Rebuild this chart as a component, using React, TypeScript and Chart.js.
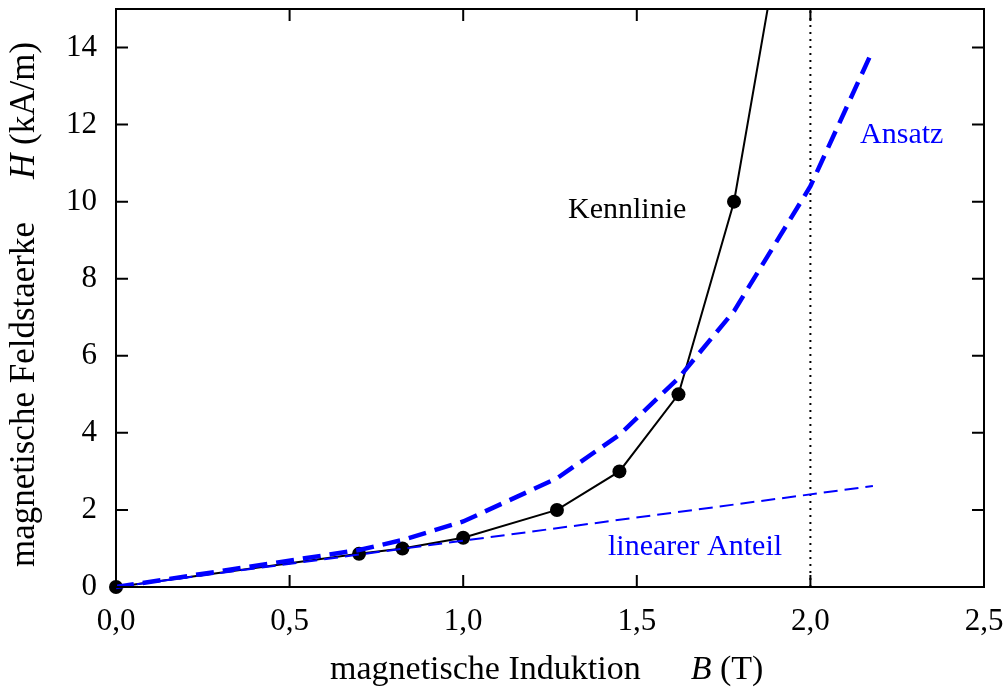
import React, { useEffect, useRef } from "react";
import { Chart, registerables } from "chart.js";

Chart.register(...registerables);

// ---- data ----
const kennB = [0, 0.7, 0.825, 1.0, 1.27, 1.45, 1.62, 1.78, 1.9];
const kennH = [0, 0.86, 1.0, 1.28, 2.0, 3.0, 5.0, 10.0, 16.2];
const ansatzB = [0, 0.7, 0.825, 1.0, 1.27, 1.45, 1.62, 1.78, 2.0, 2.18];
const ansatzH = [0, 0.96, 1.22, 1.7, 2.82, 3.95, 5.42, 7.16, 10.4, 13.94];
const linearB = [0, 2.18];
const linearH = [0, 2.62];
const markerB = [2.0, 2.0];
const markerH = [0, 15];
const xTicks = [0, 0.5, 1.0, 1.5, 2.0, 2.5];
const yTicks = [0, 2, 4, 6, 8, 10, 12, 14];
const labelTexts = ["Kennlinie", "Ansatz", "linearer Anteil"];
const labelB = [1.302, 2.143, 1.417];
const labelH = [9.58, 11.53, 0.83];
const labelColors = ["#000000", "#0000ff", "#0000ff"];
const xTitle = ["magnetische Induktion", "B", "(T)"];
const yTitle = ["magnetische Feldstaerke", "H", "(kA/m)"];

const FONT = "'Liberation Serif', 'Times New Roman', serif";
const BLUE = "#0000ff";

const zip = (xs: number[], ys: number[]) => xs.map((x, i) => ({ x, y: ys[i] }));

function drawTitle(ctx: CanvasRenderingContext2D, parts: string[], size: number, gap: number, x0: number, y0: number) {
  const reg = `${size}px ${FONT}`;
  const ita = `italic ${size}px ${FONT}`;
  ctx.font = reg;
  const w1 = ctx.measureText(parts[0]).width;
  const ws = ctx.measureText(" ").width;
  ctx.font = ita;
  const w2 = ctx.measureText(parts[1]).width;
  let x = x0;
  ctx.font = reg;
  ctx.fillText(parts[0], x, y0);
  x += w1 + gap;
  ctx.font = ita;
  ctx.fillText(parts[1], x, y0);
  x += w2 + ws;
  ctx.font = reg;
  ctx.fillText(parts[2], x, y0);
}

const framePlugin = {
  id: "frame",
  afterDatasetsDraw(chart: any) {
    const { ctx, chartArea: a, scales } = chart;
    const xs = scales.x;
    const ys = scales.y;
    ctx.save();
    ctx.strokeStyle = "#000";
    ctx.lineWidth = 2;
    ctx.setLineDash([]);
    ctx.strokeRect(a.left, a.top, a.right - a.left, a.bottom - a.top);
    const tl = 12;
    ctx.beginPath();
    xTicks.forEach((v) => {
      const p = xs.getPixelForValue(v);
      ctx.moveTo(p, a.bottom);
      ctx.lineTo(p, a.bottom - tl);
      ctx.moveTo(p, a.top);
      ctx.lineTo(p, a.top + tl);
    });
    yTicks.forEach((v) => {
      const p = ys.getPixelForValue(v);
      ctx.moveTo(a.left, p);
      ctx.lineTo(a.left + tl, p);
      ctx.moveTo(a.right, p);
      ctx.lineTo(a.right - tl, p);
    });
    ctx.stroke();

    // in-plot labels
    ctx.font = `30px ${FONT}`;
    ctx.textAlign = "left";
    ctx.textBaseline = "alphabetic";
    labelTexts.forEach((t, i) => {
      ctx.fillStyle = labelColors[i];
      ctx.fillText(t, xs.getPixelForValue(labelB[i]), ys.getPixelForValue(labelH[i]));
    });

    // axis titles
    ctx.fillStyle = "#000";
    drawTitle(ctx, xTitle, 34, 50, a.left + 214, 679);
    ctx.save();
    ctx.translate(34, a.bottom - 20);
    ctx.rotate(-Math.PI / 2);
    drawTitle(ctx, yTitle, 35, 43, 0, 0);
    ctx.restore();
    ctx.restore();
  },
};

export default function App() {
  const ref = useRef<HTMLCanvasElement | null>(null);
  useEffect(() => {
    if (!ref.current) return;
    const clipBox = { left: 10, bottom: 10, top: 0, right: 0 } as any;
    const chart = new Chart(ref.current, {
      type: "scatter",
      data: {
        datasets: [
          {
            label: "linearer Anteil",
            data: zip(linearB, linearH),
            showLine: true,
            borderColor: BLUE,
            borderWidth: 2,
            borderDash: [14, 7],
            pointRadius: 0,
            clip: clipBox,
          },
          {
            label: "Ansatz",
            data: zip(ansatzB, ansatzH),
            showLine: true,
            borderColor: BLUE,
            borderWidth: 4.5,
            borderDash: [18, 9],
            pointRadius: 0,
            clip: clipBox,
          },
          {
            label: "Kennlinie",
            data: zip(kennB, kennH),
            showLine: true,
            borderColor: "#000",
            backgroundColor: "#000",
            borderWidth: 2,
            pointRadius: kennH.map((h) => (h > 15 ? 0 : 7)),
            pointBorderWidth: 0,
            pointHoverRadius: 0,
            clip: clipBox,
          },
          {
            label: "B = 2 T",
            data: zip(markerB, markerH),
            showLine: true,
            borderColor: "#000",
            borderWidth: 2,
            borderDash: [2, 5],
            pointRadius: 0,
            clip: 0 as any,
          },
        ],
      },
      options: {
        animation: false,
        responsive: false,
        devicePixelRatio: 1,
        events: [],
        layout: { padding: { left: 0, top: 9, right: 19, bottom: 0 } },
        plugins: {
          legend: { display: false },
          tooltip: { enabled: false },
          title: { display: false },
        },
        scales: {
          x: {
            type: "linear",
            min: 0,
            max: 2.5,
            grid: { display: false, drawTicks: false },
            border: { display: false },
            afterBuildTicks: (s: any) => {
              s.ticks = xTicks.map((v) => ({ value: v }));
            },
            afterFit: (s: any) => {
              s.height = 111;
              s.paddingLeft = 0;
              s.paddingRight = 0;
            },
            ticks: {
              color: "#000",
              font: { family: FONT, size: 31 },
              padding: 16,
              maxRotation: 0,
              autoSkip: false,
              callback: (v: any) => Number(v).toFixed(1).replace(".", ","),
            },
          },
          y: {
            type: "linear",
            min: 0,
            max: 15,
            grid: { display: false, drawTicks: false },
            border: { display: false },
            afterBuildTicks: (s: any) => {
              s.ticks = yTicks.map((v) => ({ value: v }));
            },
            afterFit: (s: any) => {
              s.width = 116;
              s.paddingTop = 0;
              s.paddingBottom = 0;
            },
            ticks: {
              color: "#000",
              font: { family: FONT, size: 31 },
              padding: 19,
              autoSkip: false,
              callback: (v: any) => String(v),
            },
          },
        },
      },
      plugins: [framePlugin],
    });
    return () => chart.destroy();
  }, []);
  return (
    <div style={{ position: "absolute", left: 0, top: 0, width: 1003, height: 698, background: "#fff" }}>
      <canvas ref={ref} width={1003} height={698} style={{ display: "block" }} />
    </div>
  );
}
